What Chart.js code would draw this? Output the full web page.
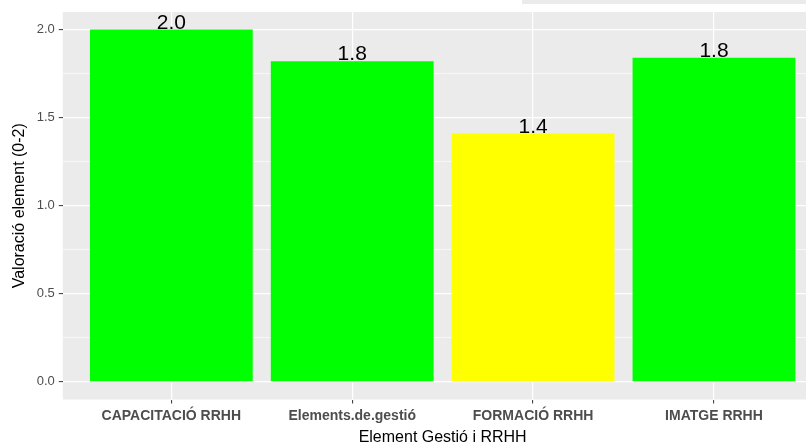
<!DOCTYPE html>
<html>
<head>
<meta charset="utf-8">
<script src="https://cdn.jsdelivr.net/npm/chart.js@4"></script>
<style>
    html, body { margin: 0; padding: 0; background: #fff; overflow: hidden; }
    #wrap { position: relative; width: 806px; height: 447px; overflow: hidden; }
    #strip { position: absolute; left: 522px; top: 0; width: 284px; height: 4px; background: #EBEBEB; }
    canvas { position: absolute; left: 0; top: 0; }
</style>
</head>
<body>
<div id="wrap">
    <canvas id="valoracio-chart" width="830" height="447"></canvas>
    <div id="strip"></div>
</div>
<script>
// Chart data
const categories = ['CAPACITACIÓ RRHH', 'Elements.de.gestió', 'FORMACIÓ RRHH', 'IMATGE RRHH'];
const values = [2.0, 1.82, 1.41, 1.84];
const barColors = ['#00FF00', '#00FF00', '#FFFF00', '#00FF00'];
const yMajorTicks = [0, 0.5, 1.0, 1.5, 2.0];
const yMinorTicks = [0.25, 0.75, 1.25, 1.75];

const fontFamily = '"Liberation Sans", Arial, sans-serif';

// Grey panel + white page background
const panelPlugin = {
    id: 'panel',
    beforeDraw(chart) {
        const { ctx, chartArea } = chart;
        ctx.save();
        ctx.fillStyle = '#ffffff';
        ctx.fillRect(0, 0, chart.width, chart.height);
        ctx.fillStyle = '#EBEBEB';
        ctx.fillRect(chartArea.left, chartArea.top, chartArea.right - chartArea.left, chartArea.bottom - chartArea.top);
        ctx.restore();
    }
};

// Value labels on top of each bar
const valueLabelPlugin = {
    id: 'valueLabels',
    afterDatasetsDraw(chart) {
        const { ctx } = chart;
        const meta = chart.getDatasetMeta(0);
        ctx.save();
        ctx.font = `21px ${fontFamily}`;
        ctx.fillStyle = '#000000';
        ctx.textAlign = 'center';
        ctx.textBaseline = 'alphabetic';
        meta.data.forEach((bar, i) => {
            ctx.fillText(values[i].toFixed(1), bar.x, bar.y - 1);
        });
        ctx.restore();
    }
};

const isMajor = v => yMajorTicks.some(t => Math.abs(t - v) < 1e-9);

const ctx = document.getElementById('valoracio-chart').getContext('2d');

const myChart = new Chart(ctx, {
    type: 'bar',
    data: {
        datasets: [{
            data: values.map((v, i) => ({ x: i + 1, y: v })),
            backgroundColor: barColors,
            borderWidth: 0,
            barPercentage: 0.9,
            categoryPercentage: 1.0
        }]
    },
    options: {
        responsive: false,
        animation: false,
        devicePixelRatio: 1,
        layout: { padding: { top: 12, right: 7.5, left: 0, bottom: 0 } },
        plugins: {
            legend: { display: false },
            tooltip: { enabled: false }
        },
        scales: {
            x: {
                type: 'linear',
                offset: false,
                min: 0.4,
                max: 4.6,
                afterBuildTicks: scale => {
                    scale.ticks = categories.map((c, i) => ({ value: i + 1 }));
                },
                afterFit: scale => { scale.height = 47.5; },
                grid: {
                    offset: false,
                    color: '#ffffff',
                    lineWidth: 1.2,
                    tickColor: '#333333',
                    tickLength: 4,
                    tickWidth: 1
                },
                border: { display: false },
                ticks: {
                    autoSkip: false,
                    maxRotation: 0,
                    padding: 4,
                    color: '#4D4D4D',
                    font: { family: fontFamily, size: 14, weight: 'bold' },
                    callback: value => categories[value - 1] || ''
                },
                title: {
                    display: true,
                    text: 'Element Gestió i RRHH',
                    color: '#000000',
                    font: { family: fontFamily, size: 16 },
                    padding: { top: 0, bottom: 0 }
                }
            },
            y: {
                type: 'linear',
                min: -0.1,
                max: 2.1,
                afterBuildTicks: scale => {
                    scale.ticks = yMajorTicks.concat(yMinorTicks)
                        .sort((a, b) => a - b)
                        .map(v => ({ value: v }));
                },
                afterFit: scale => { scale.width = 62.8; },
                grid: {
                    color: '#ffffff',
                    lineWidth: c => (isMajor(c.tick.value) ? 1.2 : 0.6),
                    tickColor: c => (isMajor(c.tick.value) ? '#333333' : 'rgba(0,0,0,0)'),
                    tickLength: 4,
                    tickWidth: 1
                },
                border: { display: false },
                ticks: {
                    autoSkip: false,
                    padding: 4,
                    color: '#4D4D4D',
                    font: { family: fontFamily, size: 13 },
                    callback: value => (isMajor(value) ? value.toFixed(1) : '')
                },
                title: {
                    display: true,
                    text: 'Valoració element (0-2)',
                    color: '#000000',
                    font: { family: fontFamily, size: 16 },
                    padding: { top: 10, bottom: 0 }
                }
            }
        }
    },
    plugins: [panelPlugin, valueLabelPlugin]
});
</script>
</body>
</html>
